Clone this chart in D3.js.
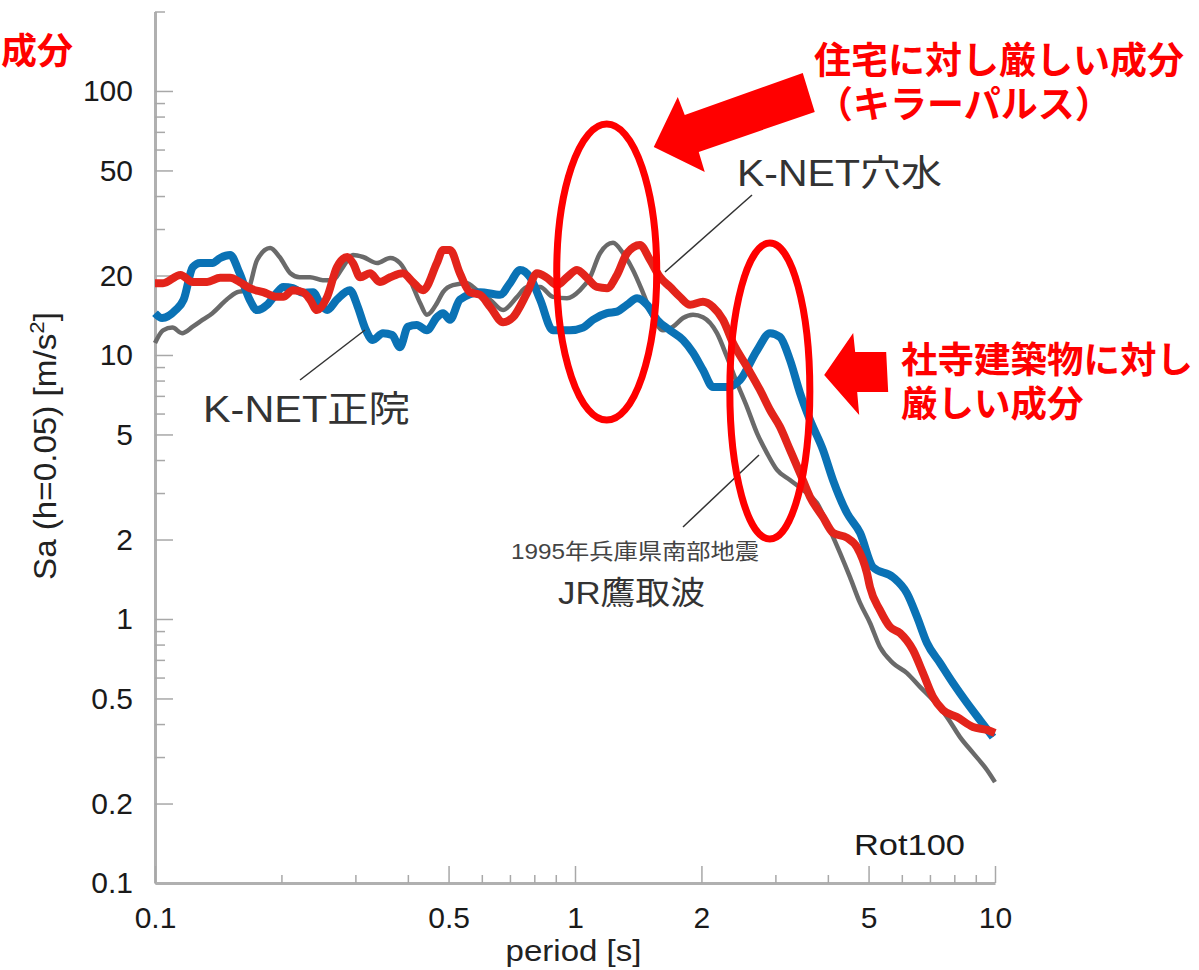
<!DOCTYPE html>
<html>
<head>
<meta charset="utf-8">
<script src="https://cdn.jsdelivr.net/npm/d3@7"></script>
<style>
body { margin: 0; background: #fff; }
svg { display: block; }
text { font-family: "Liberation Sans", Arial, "Noto Sans CJK JP", sans-serif; }
.ann { font-family: "Noto Sans CJK JP", sans-serif; font-weight: bold; fill: #f00; }
</style>
</head>
<body>
<div id="chart"></div>
<script>
var w = 1199;
var h = 970;

// K-NET正院 (blue)
var seiinPeriod = [0.100, 0.104, 0.112, 0.117, 0.123, 0.128, 0.137, 0.143, 0.151, 0.159, 0.168, 0.175, 0.185, 0.195, 0.202, 0.213, 0.225, 0.238, 0.247, 0.257, 0.271, 0.291, 0.304, 0.316, 0.330, 0.349, 0.367, 0.383, 0.400, 0.420, 0.444, 0.469, 0.485, 0.504, 0.532, 0.594, 0.663, 0.700, 0.740, 0.782, 0.826, 0.886, 0.973, 1.045, 1.104, 1.192, 1.259, 1.330, 1.405, 1.484, 1.568, 1.684, 1.808, 1.910, 2.017, 2.131, 2.301, 2.471, 2.712, 2.913, 3.077, 3.250, 3.433, 3.627, 3.894, 4.114, 4.442, 4.771, 5.124, 5.717, 6.173, 6.520, 6.887, 7.397, 7.943, 8.577, 9.210, 9.890];
var seiinSa = [14.4, 13.8, 14.8, 16.2, 21.5, 22.3, 22.3, 23.3, 23.9, 20.4, 16.2, 14.8, 15.5, 17.2, 18.1, 17.9, 17.2, 17.3, 15.7, 14.8, 16.2, 17.6, 15.2, 12.7, 11.4, 12.1, 11.9, 10.7, 12.8, 13.0, 12.4, 13.9, 14.4, 13.6, 16.2, 17.3, 16.9, 18.7, 21.0, 19.7, 16.2, 12.4, 12.4, 12.7, 13.6, 14.4, 14.6, 15.5, 16.4, 15.5, 13.6, 12.4, 11.4, 10.2, 8.77, 7.56, 7.56, 8.04, 10.4, 12.1, 11.7, 9.57, 7.18, 5.67, 4.37, 3.36, 2.52, 2.12, 1.57, 1.44, 1.25, 1.02, 0.811, 0.681, 0.572, 0.481, 0.414, 0.357];

// K-NET穴水 (red)
var anamizuPeriod = [0.100, 0.1045, 0.115, 0.123, 0.133, 0.143, 0.151, 0.159, 0.168, 0.181, 0.195, 0.202, 0.213, 0.225, 0.234, 0.243, 0.257, 0.271, 0.287, 0.296, 0.308, 0.325, 0.343, 0.363, 0.389, 0.411, 0.435, 0.469, 0.485, 0.504, 0.532, 0.562, 0.594, 0.628, 0.674, 0.712, 0.769, 0.812, 0.858, 0.906, 0.957, 1.011, 1.068, 1.128, 1.192, 1.259, 1.330, 1.428, 1.509, 1.594, 1.684, 1.778, 1.879, 2.017, 2.131, 2.251, 2.378, 2.568, 2.757, 2.913, 3.077, 3.250, 3.433, 3.627, 3.894, 4.114, 4.442, 4.693, 4.957, 5.040, 5.323, 5.623, 5.940, 6.379, 6.740, 7.119, 7.521, 8.120, 8.864, 9.571, 10.0];
var anamizuSa = [18.7, 18.7, 20.1, 18.9, 18.9, 19.6, 19.6, 18.9, 17.9, 17.3, 16.6, 16.6, 17.6, 17.3, 16.2, 14.8, 16.6, 21.5, 23.5, 22.3, 19.7, 20.4, 18.9, 19.7, 20.4, 18.9, 17.6, 22.3, 25.0, 25.0, 20.4, 17.3, 16.9, 15.2, 13.3, 13.9, 17.2, 20.4, 19.6, 18.4, 19.7, 21.0, 19.6, 18.1, 17.9, 20.1, 24.3, 26.1, 22.9, 19.7, 18.1, 16.6, 15.5, 15.9, 15.2, 13.6, 11.1, 9.01, 7.37, 6.19, 5.34, 4.37, 3.57, 2.90, 2.43, 2.12, 2.03, 1.87, 1.49, 1.32, 1.08, 0.933, 0.885, 0.763, 0.624, 0.507, 0.452, 0.425, 0.390, 0.380, 0.370];

// JR鷹取波 (gray)
var takatoriPeriod = [0.100, 0.1045, 0.110, 0.116, 0.123, 0.130, 0.137, 0.148, 0.157, 0.166, 0.175, 0.188, 0.198, 0.210, 0.221, 0.234, 0.251, 0.265, 0.280, 0.296, 0.313, 0.338, 0.363, 0.383, 0.405, 0.428, 0.444, 0.469, 0.485, 0.512, 0.553, 0.584, 0.628, 0.674, 0.728, 0.769, 0.826, 0.886, 0.957, 1.028, 1.086, 1.147, 1.232, 1.301, 1.374, 1.452, 1.534, 1.620, 1.712, 1.808, 1.910, 2.017, 2.178, 2.301, 2.431, 2.568, 2.712, 2.865, 3.027, 3.250, 3.490, 3.769, 4.047, 4.275, 4.516, 4.771, 5.040, 5.323, 5.717, 6.173, 6.629, 7.119, 7.687, 8.255, 8.864, 9.571, 10.0];
var takatoriSa = [11.1, 12.4, 12.7, 12.1, 12.8, 13.6, 14.4, 16.2, 17.3, 17.6, 22.9, 25.4, 23.5, 20.4, 19.7, 19.7, 19.2, 19.2, 21.5, 23.9, 23.5, 22.3, 23.3, 22.3, 19.2, 15.7, 14.2, 15.7, 17.3, 18.4, 18.7, 17.6, 16.2, 14.8, 16.6, 18.1, 18.1, 16.6, 16.4, 17.6, 19.7, 24.3, 26.6, 24.3, 21.0, 17.2, 13.9, 12.4, 12.8, 13.8, 14.2, 13.9, 12.1, 9.83, 7.83, 6.35, 5.06, 4.25, 3.67, 3.36, 3.08, 2.75, 2.17, 1.78, 1.44, 1.15, 0.966, 0.783, 0.681, 0.624, 0.553, 0.493, 0.425, 0.357, 0.311, 0.268, 0.241];

var xTickLabels = [0.1, 0.5, 1, 2, 5, 10];
var yTickLabels = [0.1, 0.2, 0.5, 1, 2, 5, 10, 20, 50, 100];

// highlighted regions [period, Sa]
var pulseCenter = [1.19, 20.6];
var templeCenter = [2.91, 7.3];
var pulseArrowTip = [1.54, 61.4];
var templeArrowTip = [3.92, 8.4];

var xScale = d3.scaleLog().domain([0.1, 10]).range([155, 995]);
var yScale = d3.scaleLog().domain([0.1, 200]).range([883, 11.5]);

var svg = d3.select("#chart")
    .append("svg")
    .attr("width", w)
    .attr("height", h);

svg.append("rect").attr("width", w).attr("height", h).attr("fill", "#fff");

// axes
var yAxis = d3.axisLeft(yScale)
    .tickValues(yScale.ticks())
    .tickSize(-10)
    .tickSizeOuter(0)
    .tickPadding(22)
    .tickFormat(function (d) { return yTickLabels.includes(d) ? d : ""; });

var xAxis = d3.axisBottom(xScale)
    .tickValues(xScale.ticks())
    .tickSize(-8)
    .tickSizeOuter(0)
    .tickPadding(24)
    .tickFormat(function (d) { return xTickLabels.includes(d) ? d : ""; });

var gy = svg.append("g").attr("transform", "translate(155,0)").call(yAxis);
var gx = svg.append("g").attr("transform", "translate(0,883)").call(xAxis);

gy.selectAll(".tick line")
    .attr("x2", function (d) { return yTickLabels.includes(d) ? 18 : 10; });
gx.selectAll(".tick line")
    .attr("y2", function (d) { return xTickLabels.includes(d) ? -17 : -8; });

[gx, gy].forEach(function (g) {
    g.attr("font-family", null).attr("font-size", null);
    g.select(".domain").attr("stroke", "#b0b0b0").attr("stroke-width", 3);
    g.selectAll(".tick line").attr("stroke", "#a8a8a8").attr("stroke-width", 1.5);
    g.selectAll(".tick text").attr("fill", "#1a1a1a").style("font-size", "30px");
});

// spectra
var line = d3.line()
    .curve(d3.curveMonotoneX)
    .x(function (d) { return xScale(d[0]); })
    .y(function (d) { return yScale(d[1]); });

svg.append("path")
    .datum(d3.zip(takatoriPeriod, takatoriSa))
    .attr("fill", "none")
    .attr("stroke", "#6a6a6a")
    .attr("stroke-width", 4.5)
    .attr("stroke-linejoin", "round")
    .attr("d", line);

svg.append("path")
    .datum(d3.zip(seiinPeriod, seiinSa))
    .attr("fill", "none")
    .attr("stroke", "#0a72b5")
    .attr("stroke-width", 8)
    .attr("stroke-linejoin", "round")
    .attr("d", line);

svg.append("path")
    .datum(d3.zip(anamizuPeriod, anamizuSa))
    .attr("fill", "none")
    .attr("stroke", "#e3241b")
    .attr("stroke-width", 8)
    .attr("stroke-linejoin", "round")
    .attr("d", line);

// labels
function label(txt, xPos, yPos, size, len, anchor, color) {
    svg.append("text")
        .attr("x", xPos)
        .attr("y", yPos)
        .attr("font-size", size)
        .attr("fill", color || "#333")
        .attr("text-anchor", anchor || "start")
        .attr("textLength", len)
        .attr("lengthAdjust", "spacingAndGlyphs")
        .text(txt);
}

label("K-NET穴水", 737, 186, 36, 205);
label("K-NET正院", 203, 422, 36, 207);
label("1995年兵庫県南部地震", 511, 559, 22, 248, "start", "#444");
label("JR鷹取波", 558, 604, 32, 147);
label("Rot100", 854, 855, 30, 111, "start", "#1a1a1a");
label("period [s]", 573.5, 961, 29, 136, "middle", "#222");

var ylab = svg.append("text")
    .attr("transform", "translate(56,446) rotate(-90)")
    .attr("text-anchor", "middle")
    .attr("font-size", 31)
    .attr("fill", "#222")
    .attr("textLength", 268)
    .attr("lengthAdjust", "spacingAndGlyphs");
ylab.append("tspan").text("Sa (h=0.05) [m/s");
ylab.append("tspan").attr("dy", -12).attr("font-size", 21).text("2");
ylab.append("tspan").attr("dy", 12).text("]");

// leader lines
var leaders = [[752, 195, 665, 272], [365, 330, 300, 380], [759, 455, 683, 527]];
leaders.forEach(function (l) {
    svg.append("line")
        .attr("x1", l[0]).attr("y1", l[1])
        .attr("x2", l[2]).attr("y2", l[3])
        .attr("stroke", "#333")
        .attr("stroke-width", 1.5);
});

// highlight ellipses
svg.append("ellipse")
    .attr("cx", xScale(pulseCenter[0]))
    .attr("cy", yScale(pulseCenter[1]))
    .attr("rx", 50).attr("ry", 148)
    .attr("fill", "none").attr("stroke", "#f00").attr("stroke-width", 7);

svg.append("ellipse")
    .attr("cx", xScale(templeCenter[0]))
    .attr("cy", yScale(templeCenter[1]))
    .attr("rx", 40).attr("ry", 148)
    .attr("fill", "none").attr("stroke", "#f00").attr("stroke-width", 7);

// arrows
var arrow1 = [[0, 0], [24, -50], [31, -32], [149, -74], [161, -35], [45, 5], [51, 25]];
var arrow2 = [[0, 0], [29, -42], [31, -23], [62, -23], [64, 17], [33, 17], [35, 40]];

svg.append("polygon")
    .attr("transform", "translate(" + xScale(pulseArrowTip[0]) + "," + yScale(pulseArrowTip[1]) + ")")
    .attr("points", arrow1.join(" "))
    .attr("fill", "#f00");

svg.append("polygon")
    .attr("transform", "translate(" + xScale(templeArrowTip[0]) + "," + yScale(templeArrowTip[1]) + ")")
    .attr("points", arrow2.join(" "))
    .attr("fill", "#f00");

// annotation text, one text element per block
function ann(lines, size) {
    var t = svg.append("text")
        .attr("class", "ann")
        .attr("font-size", size)
        .attr("dominant-baseline", "central");
    lines.forEach(function (l) {
        t.append("tspan").attr("x", l[1]).attr("y", l[2]).text(l[0]);
    });
}

ann([["成分", 1, 48]], 36);
ann([["住宅に対し厳しい成分", 814, 58], ["（キラーパルス）", 816, 102]], 37);
ann([["社寺建築物に対し", 901, 357], ["厳しい成分", 901, 401]], 36.5);
</script>
</body>
</html>
